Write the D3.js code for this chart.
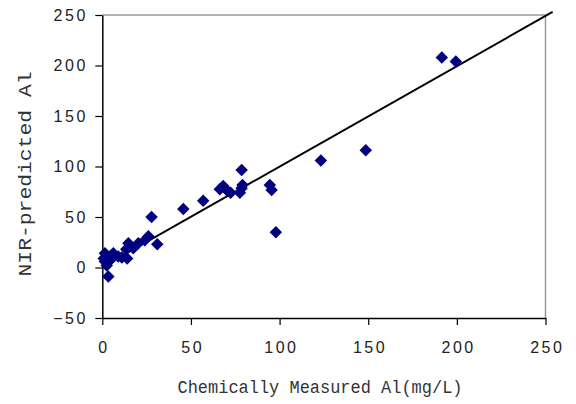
<!DOCTYPE html>
<html>
<head>
<meta charset="utf-8">
<script src="https://cdn.jsdelivr.net/npm/d3@7"></script>
<style>
html,body{margin:0;padding:0;background:#fff;}
svg{display:block;}
</style>
</head>
<body>
<svg id="chart" width="576" height="404"></svg>
<script>
// Data
const chemicalAl = [191.5, 199.4, 148.6, 123.3, 97.9, 78.6, 94.5, 95.5, 68.2, 70.1, 72.4, 78.6, 79.1, 77.6, 66.3, 56.9, 45.7, 27.8, 31, 26, 24, 20.3, 17.5, 14.7, 14, 13.5, 9, 6.2, 4.3, 3.4, 1.5, 1.5, 2.5, 0.8, 11, 5];
const nirAl      = [208, 204, 116, 106, 35, 96.5, 81.7, 76.7, 80.7, 76.7, 74, 78.4, 81.7, 74, 77.4, 66, 58, 50, 23, 31, 27, 24, 19, 24, 9, 18, 11, 14, 7, -9, 14, 6, 2, 9, 10, 12];
const lineX = [0, 254];
const lineY = [0.5, 253];
const xTicks = [0, 50, 100, 150, 200, 250];
const yTicks = [-50, 0, 50, 100, 150, 200, 250];
const xTitle = "Chemically Measured Al(mg/L)";
const yTitle = "NIR-predicted Al";

const svg = d3.select("#chart");
const x = d3.scaleLinear().domain([0, 250]).range([102.3, 545.5]);
const y = d3.scaleLinear().domain([-50, 250]).range([318, 15]);

// plot area border (gray top/right)
svg.append("path")
  .attr("d", `M${x(0)},${y(250)}H${x(250)}V${y(-50)}`)
  .attr("fill", "none").attr("stroke", "#9a9a9a").attr("stroke-width", 1.5);

const fontTick = "Liberation Sans, Arial, sans-serif";

const yAxis = svg.append("g").attr("transform", `translate(${x(0)},0)`)
  .call(d3.axisLeft(y).tickValues(yTicks).tickSize(7).tickSizeOuter(0).tickPadding(7.5)
    .tickFormat(d => d < 0 ? "\u2212" + Math.abs(d) : d));
const xAxis = svg.append("g").attr("transform", `translate(0,${y(-50)})`)
  .call(d3.axisBottom(x).tickValues(xTicks).tickSize(7).tickSizeOuter(0).tickPadding(17));

[xAxis, yAxis].forEach(g => {
  g.select(".domain").attr("stroke", "#000").attr("stroke-width", 1.5);
  g.selectAll(".tick line").attr("stroke", "#000").attr("stroke-width", 1.2);
  g.selectAll(".tick text").attr("fill", "#222")
    .style("font-family", fontTick).style("font-size", "16px").style("letter-spacing", "2.5px");
});
xAxis.selectAll(".tick text").attr("dx", "1.25");

// 1:1 line
svg.append("line")
  .attr("x1", x(lineX[0])).attr("y1", y(lineY[0]))
  .attr("x2", x(lineX[1])).attr("y2", y(lineY[1]))
  .attr("stroke", "#000").attr("stroke-width", 2);

// points
const diamond = d3.symbol().type(d3.symbolSquare).size(78);
const pts = chemicalAl.map((c, i) => [c, nirAl[i]]);
svg.append("g").selectAll("path").data(pts).join("path")
  .attr("d", diamond)
  .attr("transform", d => `translate(${x(d[0])},${y(d[1])}) rotate(45)`)
  .attr("fill", "#000080");

// titles
svg.append("text")
  .attr("x", 320).attr("y", 393)
  .attr("text-anchor", "middle")
  .attr("textLength", 285).attr("lengthAdjust", "spacingAndGlyphs")
  .style("font-family", "Liberation Mono, monospace").style("font-size", "18px")
  .attr("fill", "#333")
  .text(xTitle);

svg.append("text")
  .attr("transform", `translate(31,174) rotate(-90)`)
  .attr("text-anchor", "middle")
  .attr("textLength", 205).attr("lengthAdjust", "spacingAndGlyphs")
  .style("font-family", "Liberation Mono, monospace").style("font-size", "18px")
  .attr("fill", "#333")
  .text(yTitle);
</script>
</body>
</html>
